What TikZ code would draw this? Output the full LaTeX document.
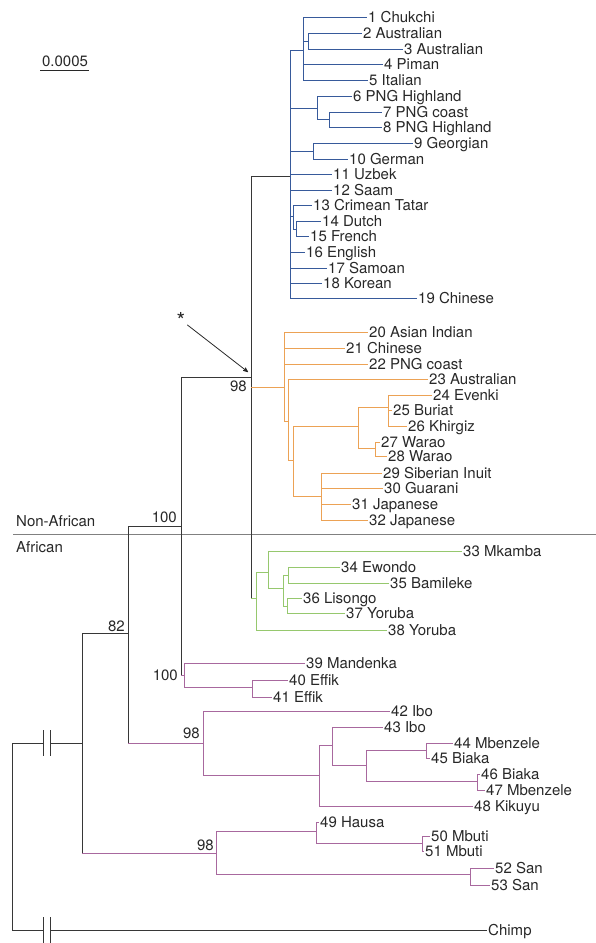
\documentclass[tikz,border=0pt]{standalone}
\usepackage{fontspec}
\setmainfont{TeX Gyre Heros}
\usetikzlibrary{arrows,positioning}
\definecolor{txtgray}{RGB}{40,40,40}
\definecolor{linegray}{RGB}{55,55,55}
\definecolor{treeblue}{RGB}{55,90,155}
\definecolor{treeorange}{RGB}{236,162,85}
\definecolor{treegreen}{RGB}{150,200,110}
\definecolor{treepurple}{RGB}{168,104,158}
\tikzset{
    %Define standard arrow tip
    >=stealth',
    %Define style for taxon labels
    taxon/.style={
           anchor=west,
           inner sep=1pt,
           text height=10.5pt,
           text depth=0pt,
           font=\fontsize{15}{17}\selectfont,
           text=txtgray},
    support/.style={
           anchor=east,
           inner sep=1pt,
           text height=10.5pt,
           text depth=0pt,
           font=\fontsize{15}{17}\selectfont,
           text=txtgray},
    region/.style={
           anchor=west,
           inner sep=1pt,
           font=\fontsize{15}{17}\selectfont,
           text=txtgray},
    % Define branch styles
    bb/.style={draw=linegray, line width=0.8pt},
    blu/.style={draw=treeblue, line width=0.8pt},
    org/.style={draw=treeorange, line width=0.8pt},
    grn/.style={draw=treegreen, line width=0.8pt},
    pur/.style={draw=treepurple, line width=0.8pt}
}
\begin{document}
\begin{tikzpicture}[x=1pt,y=-1pt]
\useasboundingbox (0,0) rectangle (596,943);
 %scale bar
\node[region, anchor=center] (sbar) at (65,61) {0.0005};
\coordinate (sb1) at (40,70);
\coordinate (sb2) at (89,70);
\draw[bb, draw=txtgray] (sb1) -- (sb2);
 %non-african / african
\coordinate (sepL) at (13,534);
\coordinate (sepR) at (596,534);
\draw[draw=gray, line width=0.8pt] (sepL) -- (sepR);
\node[region] (nonafr) at (15,521) {Non-African};
\node[region] (afr) at (15,547) {African};
 %blue taxa
\node[taxon] (t1) at (367,17) {1 Chukchi};
\node[taxon] (t2) at (362,33) {2 Australian};
\node[taxon] (t3) at (403,49) {3 Australian};
\node[taxon] (t4) at (383,64) {4 Piman};
\node[taxon] (t5) at (368,80) {5 Italian};
\node[taxon] (t6) at (352,96) {6 PNG Highland};
\node[taxon] (t7) at (382,112) {7 PNG coast};
\node[taxon] (t8) at (382,127) {8 PNG Highland};
\node[taxon] (t9) at (413,143) {9 Georgian};
\node[taxon] (t10) at (348,159) {10 German};
\node[taxon] (t11) at (332,174) {11 Uzbek};
\node[taxon] (t12) at (332,190) {12 Saam};
\node[taxon] (t13) at (312,205) {13 Crimean Tatar};
\node[taxon] (t14) at (321,221) {14 Dutch};
\node[taxon] (t15) at (309,236) {15 French};
\node[taxon] (t16) at (305,252) {16 English};
\node[taxon] (t17) at (327,268) {17 Samoan};
\node[taxon] (t18) at (322,283) {18 Korean};
\node[taxon] (t19) at (417,298) {19 Chinese};
\coordinate (b0) at (290,176);
\coordinate (bA) at (303,50);
\coordinate (bA2) at (308,41);
\coordinate (b6) at (317,108);
\coordinate (b7) at (329,119);
\coordinate (b9) at (313,151);
\coordinate (b13) at (293,216);
\coordinate (b14) at (296,229);
\foreach \p/\c in {bA/t1,bA/bA2,bA/t4,bA/t5,bA2/t2,bA2/t3,b6/t6,b6/b7,b7/t7,b7/t8,
    b9/t9,b9/t10,b13/t13,b13/b14,b14/t14,b14/t15,b0/bA,b0/b6,b0/b9,b0/t11,b0/t12,
    b0/b13,b0/t16,b0/t17,b0/t18,b0/t19}
    \draw[blu] (\p) |- (\c);
 %orange taxa
\node[taxon] (t20) at (368,332) {20 Asian Indian};
\node[taxon] (t21) at (345,348) {21 Chinese};
\node[taxon] (t22) at (368,364) {22 PNG coast};
\node[taxon] (t23) at (428,379) {23 Australian};
\node[taxon] (t24) at (432,395) {24 Evenki};
\node[taxon] (t25) at (392,410) {25 Buriat};
\node[taxon] (t26) at (407,426) {26 Khirgiz};
\node[taxon] (t27) at (380,442) {27 Warao};
\node[taxon] (t28) at (387,456) {28 Warao};
\node[taxon] (t29) at (382,473) {29 Siberian Inuit};
\node[taxon] (t30) at (383,488) {30 Guarani};
\node[taxon] (t31) at (351,504) {31 Japanese};
\node[taxon] (t32) at (368,520) {32 Japanese};
\coordinate (o0) at (284,387);
\coordinate (o1) at (288,421);
\coordinate (o2) at (293,460);
\coordinate (o3) at (358,426);
\coordinate (o4) at (388,407);
\coordinate (o6) at (375,448);
\coordinate (o5) at (321,496);
\foreach \p/\c in {o0/t20,o0/t21,o0/t22,o0/o1,o1/t23,o1/o2,o2/o3,o2/o5,o3/o4,o3/o6,
    o4/t24,o4/t25,o4/t26,o6/t27,o6/t28,o5/t29,o5/t30,o5/t31,o5/t32}
    \draw[org] (\p) |- (\c);
 %green taxa
\node[taxon] (t33) at (462,551) {33 Mkamba};
\node[taxon] (t34) at (340,567) {34 Ewondo};
\node[taxon] (t35) at (389,583) {35 Bamileke};
\node[taxon] (t36) at (302,598) {36 Lisongo};
\node[taxon] (t37) at (345,613) {37 Yoruba};
\node[taxon] (t38) at (387,630) {38 Yoruba};
\coordinate (g0) at (256,598);
\coordinate (g1) at (268,572);
\coordinate (g2) at (283,588);
\coordinate (g3) at (288,575);
\coordinate (g4) at (287,606);
\foreach \p/\c in {g0/g1,g0/t38,g1/t33,g1/g2,g2/g3,g2/g4,g3/t34,g3/t35,g4/t36,g4/t37}
    \draw[grn] (\p) |- (\c);
 %purple taxa
\node[taxon] (t39) at (305,663) {39 Mandenka};
\node[taxon] (t40) at (288,680) {40 Effik};
\node[taxon] (t41) at (272,697) {41 Effik};
\node[taxon] (t42) at (390,711) {42 Ibo};
\node[taxon] (t43) at (383,727) {43 Ibo};
\node[taxon] (t44) at (453,743) {44 Mbenzele};
\node[taxon] (t45) at (430,758) {45 Biaka};
\node[taxon] (t46) at (480,774) {46 Biaka};
\node[taxon] (t47) at (485,790) {47 Mbenzele};
\node[taxon] (t48) at (473,806) {48 Kikuyu};
\node[taxon] (t49) at (319,822) {49 Hausa};
\node[taxon] (t50) at (430,836) {50 Mbuti};
\node[taxon] (t51) at (424,851) {51 Mbuti};
\node[taxon] (t52) at (494,868) {52 San};
\node[taxon] (t53) at (490,885) {53 San};
\coordinate (p184) at (184,675);
\coordinate (p252) at (252,687);
\coordinate (p203) at (203,743);
\coordinate (p319) at (319,775);
\coordinate (p332) at (332,745);
\coordinate (p366) at (366,765);
\coordinate (p426) at (426,750);
\coordinate (p477) at (477,781);
\coordinate (p216) at (216,853);
\coordinate (p316) at (316,831);
\coordinate (p422) at (422,843);
\coordinate (p470) at (470,874);
\foreach \p/\c in {p184/t39,p184/p252,p252/t40,p252/t41,p203/t42,p203/p319,p319/p332,
    p319/t48,p332/t43,p332/p366,p366/p426,p366/p477,p426/t44,p426/t45,p477/t46,
    p477/t47,p216/p316,p216/p470,p316/t49,p316/p422,p422/t50,p422/t51,p470/t52,p470/t53}
    \draw[pur] (\p) |- (\c);
 %backbone
\coordinate (n251) at (251,377);
\coordinate (n181) at (181,526);
\coordinate (n128) at (128,633);
\coordinate (n82) at (82,743);
\foreach \p/\c in {n251/b0,n251/o0,n251/g0,n181/n251,n181/p184,n128/n181,n128/p203,
    n82/n128,n82/p216}
    \draw[bb] (\p) |- (\c);
\draw[org] (o0) -- (o0 -| n251);
\draw[grn] (g0) -- (g0 -| n251);
\draw[pur] (p184) -- (p184 -| n181);
\draw[pur] (p203) -- (p203 -| n128);
\draw[pur] (p216) -- (p216 -| n82);
 %root and chimp with breaks
\node[taxon] (chimp) at (487,930) {Chimp};
\coordinate (r0) at (12,743);
\coordinate (r1) at (12,930);
\coordinate (k1) at (43,743);
\coordinate (k2) at (50,743);
\coordinate (k3) at (43,930);
\coordinate (k4) at (50,930);
\draw[bb] (k2) -- (n82);
\draw[bb] (k1) -- (r0) -- (r1) -- (k3);
\draw[bb] (k4) -- (chimp);
\foreach \k in {k1,k2,k3,k4}
    \draw[bb] (\k) ++(0,-13) -- ++(0,26);
 %support values
\node[support] (s100a) at (178,517) {100};
\node[support] (s98a) at (248,386) {98};
\node[support] (s82) at (126,626) {82};
\node[support] (s100b) at (179,675) {100};
\node[support] (s98b) at (201,733) {98};
\node[support] (s98c) at (215,845) {98};
 %star marker
\node[region, anchor=center, font=\fontsize{22}{24}\selectfont] (star) at (181,320) {*};
\coordinate (starend) at (248,372);
\draw[->, draw=txtgray, line width=0.8pt, shorten <=1pt] (star) -- (starend);
\end{tikzpicture}
\end{document}
